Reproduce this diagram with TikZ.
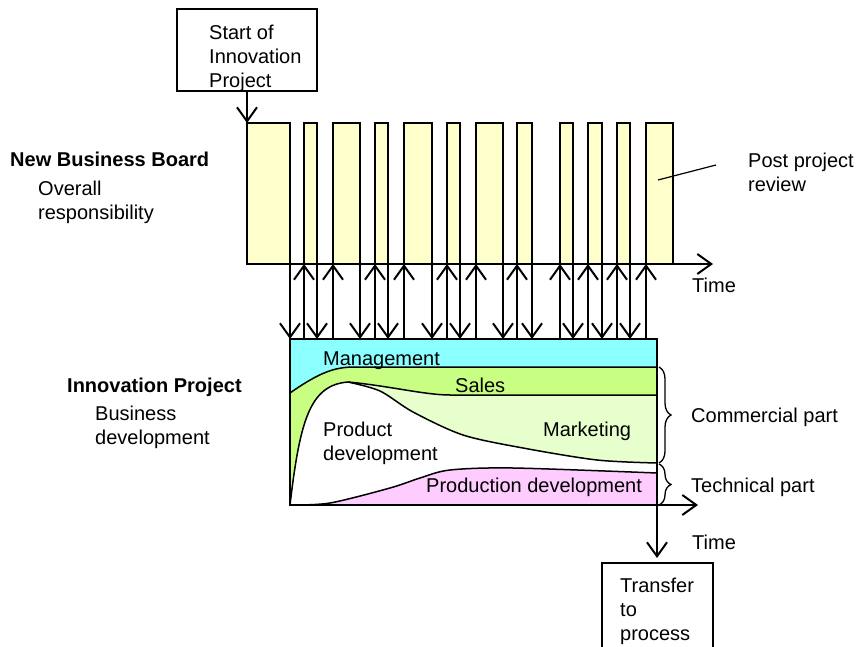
\documentclass[tikz,border=0pt]{standalone}
\usepackage{fontspec}
\setmainfont{Liberation Sans}
\usetikzlibrary{arrows.meta,decorations.pathreplacing}
\definecolor{barfill}{RGB}{255,255,204}
\definecolor{mgmt}{RGB}{140,255,255}
\definecolor{sales}{RGB}{200,255,130}
\definecolor{mkt}{RGB}{230,255,204}
\definecolor{prod}{RGB}{255,204,255}
\tikzset{
  lbl/.style={font=\fontsize{20}{24}\selectfont, inner sep=0pt, align=left},
  bar/.style={draw, fill=barfill, line width=1.5pt, inner sep=0pt, outer sep=0pt,
    anchor=south west, minimum height=141pt},
  box/.style={draw, line width=1.5pt, inner sep=0pt, outer sep=0pt, anchor=north west},
  arr/.style={line width=2pt, -{Straight Barb[length=14pt,width=20pt]}},
  band/.style={line width=1.5pt},
  brc/.style={decorate, decoration={brace, amplitude=12pt}, line width=1.3pt},
}

\begin{document}
\begin{tikzpicture}[x=1pt,y=-1pt]
  \useasboundingbox (0,0) rectangle (856,647);
  \clip (0,0) rectangle (856,647);

  % Board meetings
  \foreach \xa/\xb [count=\i] in {247/290,304/317,333/360,375/388,404/432,447/460,
      476/503,517/532,560/573,588/602,617/630,646/673}
    \node[bar, minimum width={(\xb-\xa)*1pt}] (b\i) at (\xa,264) {};

  % Start of the project
  \node[box, minimum width=140pt, minimum height=82pt] (start) at (177,9) {};
  \node[lbl, anchor=west] (starttxt) at (209,58) {Start of\\Innovation\\Project};
  \draw[arr] (b1.north west |- start.south) -- (b1.north west);

  % Time axis of the board
  \coordinate (t1) at (713,264);
  \draw[arr] (b1.south west) -- (t1);

  % Areas of the project
  \fill[mgmt] (290,339) -- (657,339) -- (657,367) -- (355,367)
    .. controls (335,367) and (320,372) .. (290,393) -- cycle;
  \fill[sales] (290,393) .. controls (320,372) and (335,367) .. (355,367)
    -- (657,367) -- (657,395) -- (450,395)
    .. controls (425,395) and (390,386) .. (348,382)
    .. controls (310,385) and (300,420) .. (290,505) -- cycle;
  \fill[mkt] (348,382) .. controls (390,386) and (425,395) .. (450,395)
    -- (657,395) -- (657,463)
    -- plot[smooth] coordinates {(657,463) (597,460) (523,448) (463,435) (413,412) (380,391) (348,382)}
    -- cycle;
  \fill[prod] plot[smooth] coordinates {(290,505) (330,503) (390,488) (420,478) (450,470) (513,468) (657,473)}
    -- (657,505) -- cycle;

  % Borders of the areas
  \draw[band] (290,393) .. controls (320,372) and (335,367) .. (355,367) -- (657,367);
  \draw[band] (348,382) .. controls (390,386) and (425,395) .. (450,395) -- (657,395);
  \draw[band] (290,505) .. controls (300,420) and (310,385) .. (348,382);
  \draw[band] plot[smooth] coordinates {(348,382) (380,391) (413,412) (463,435) (523,448) (597,460) (657,463)};
  \draw[band] plot[smooth] coordinates {(290,505) (330,503) (390,488) (420,478) (450,470) (513,468) (657,473)};

  \node[box, minimum width=367pt, minimum height=166pt] (proj) at (290,339) {};

  % Decisions down, reports up
  \foreach \i in {1,...,11}
    \draw[arr] (b\i.south east) -- (b\i.south east |- proj.north);
  \foreach \i in {2,...,12}
    \draw[arr] (b\i.south west |- proj.north) -- (b\i.south west);

  % Time axes of the project
  \coordinate (t2) at (698,505);
  \coordinate (t3) at (657,558);
  \draw[arr] (proj.south west) -- (t2);
  \draw[arr] (proj.south east) -- (t3);

  % Parts
  \draw[brc] (659,367) -- (659,463);
  \draw[brc] (659,464) -- (659,505);

  % Labels
  \node[lbl, anchor=base west] (nbb) at (10,167) {\textbf{New Business Board}};
  \node[lbl, anchor=west] (overall) at (38,202) {Overall\\responsibility};
  \node[lbl, anchor=base west] (ip) at (67,392) {\textbf{Innovation Project}};
  \node[lbl, anchor=west] (busdev) at (95,427) {Business\\development};
  \node[lbl, anchor=west] (post) at (748,172) {Post project\\review};
  \coordinate (pr1) at (658,180);
  \coordinate (pr2) at (716,165);
  \draw[line width=1.2pt] (pr1) -- (pr2);
  \node[lbl, anchor=base west] (time1) at (692,292) {Time};
  \node[lbl, anchor=base west] (time2) at (692,549) {Time};
  \node[lbl, anchor=base west] (mg) at (323,365) {Management};
  \node[lbl, anchor=base west] (sl) at (455,392) {Sales};
  \node[lbl, anchor=west] (pd) at (323,443) {Product\\development};
  \node[lbl, anchor=base west] (mk) at (543,436) {Marketing};
  \node[lbl, anchor=base west] (prd) at (426,492) {Production development};
  \node[lbl, anchor=base west] (comm) at (691,422) {Commercial part};
  \node[lbl, anchor=base west] (tech) at (691,492) {Technical part};

  % Transfer
  \node[box, minimum width=111pt, minimum height=100pt] (trans) at (602,563) {};
  \node[lbl, anchor=west] (transtxt) at (620,611) {Transfer\\to\\process};
\end{tikzpicture}
\end{document}
